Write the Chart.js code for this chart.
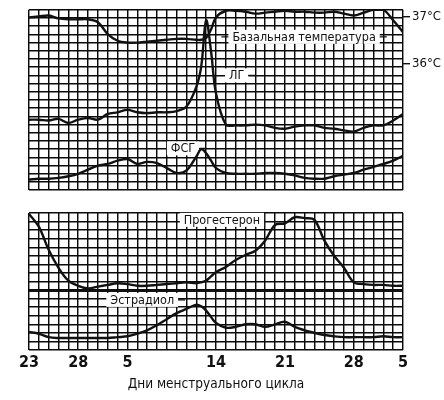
<!DOCTYPE html>
<html lang="ru">
<head>
<meta charset="utf-8">
<script src="https://cdn.jsdelivr.net/npm/chart.js@4.4.1/dist/chart.umd.min.js"></script>
<style>
  html, body { margin: 0; padding: 0; background: #fff; }
  #wrap { position: relative; width: 444px; height: 400px; }
  .panel { position: absolute; left: 0; width: 444px; height: 200px; }
  #panelTop { top: 0; }
  #panelBottom { top: 200px; }
</style>
</head>
<body>
<div id="wrap">
  <div class="panel" id="panelTop"><canvas id="hormonesTop" width="444" height="200"></canvas></div>
  <div class="panel" id="panelBottom"><canvas id="hormonesBottom" width="444" height="200"></canvas></div>
</div>
<script>
// Дни: 0 = 23-й день прошлого цикла, 38 = 5-й день следующего
const days = [0,1,2,3,4,5,6,7,8,9,10,11,12,13,14,15,16,17,17.5,18,18.5,
              19,20,21,22,23,24,25,26,27,28,29,30,31,32,33,34,35,36,37,38];
const tickDays = [0, 5, 10, 19, 26, 33, 38];
const tickLabels = ['23', '28', '5', '14', '21', '28', '5'];
const tempTicks = [36, 37];

// Базальная температура, °C
const basalTemp = [36.98,37.00,37.02,36.96,36.94,36.94,36.94,36.88,36.63,36.49,36.45,36.45,36.47,36.49,
                   36.51,36.53,36.53,36.51,36.51,36.55,36.73,36.98,37.12,37.12,37.10,37.06,37.08,37.10,
                   37.12,37.10,37.10,37.08,37.08,37.10,37.06,37.02,37.08,37.14,37.14,36.92,36.67];
// Гормоны — условные единицы (клетки сетки)
const lh = [8.6,8.6,8.5,8.7,8.2,8.6,8.8,8.6,9.3,9.5,9.8,9.5,9.4,9.5,9.5,9.65,10.2,12.6,15.1,20.7,16.9,
            11.8,8.0,7.9,7.9,8.0,7.9,7.6,7.5,7.75,7.9,7.9,7.6,7.5,7.3,7.15,7.6,7.9,7.9,8.5,9.3];
const fsh = [1.3,1.4,1.4,1.5,1.7,2.0,2.5,3.0,3.2,3.6,3.8,3.2,3.45,3.3,2.7,2.1,2.4,4.1,5.0,4.5,3.6,
             2.7,2.1,2.0,2.0,2.0,2.1,2.1,2.0,1.8,1.5,1.4,1.4,1.7,1.9,2.1,2.5,2.85,3.2,3.6,4.2];
const progesterone = [15.9,14.4,11.7,9.6,8.1,7.5,7.2,7.4,7.6,7.8,7.7,7.5,7.5,7.6,7.7,7.8,7.9,7.8,7.9,8.1,8.6,
                      9.1,9.7,10.5,11.1,11.6,12.8,14.6,14.8,15.5,15.4,15.2,12.8,11.0,9.6,7.9,7.7,7.6,7.6,7.5,7.5];
const estradiol = [2.1,1.9,1.5,1.4,1.4,1.4,1.4,1.4,1.4,1.5,1.6,1.9,2.3,2.9,3.6,4.3,4.8,5.3,5.1,4.6,3.85,
                   3.15,2.6,2.7,3.0,3.0,2.7,3.0,3.3,2.7,2.3,2.0,1.75,1.6,1.5,1.5,1.5,1.5,1.6,1.5,1.5];
const baselineDays = [0, 38];
const baseline = [6.9, 6.9];

const fontFamily = "'Liberation Sans Narrow', 'DejaVu Sans Condensed', sans-serif";
const ink = '#111';

const pts = (xs, vals) => xs.map((d, i) => ({ x: d, y: vals[i] }));
const steps = (from, to) => {
    const out = [];
    for (let v = from; v <= to; v++) out.push({ value: v });
    return out;
};

const gridStyle = { color: '#0a0a0a', lineWidth: 1.45, drawTicks: false };

// Подписи в белых рамках (позиции в единицах осей)
const notesTop = [
    { text: 'Базальная температура', day: 27.95, value: 18.7, left: true, right: true },
    { text: 'ЛГ', day: 21.1, value: 14.0, right: true },
    { text: 'ФСГ', day: 15.65, value: 5.1, right: true }
];
const notesBottom = [
    { text: 'Прогестерон', day: 19.6, value: 15.2 },
    { text: 'Эстрадиол', day: 11.5, value: 5.85, right: true }
];

function notesPlugin(notes) {
    return {
        id: 'notes',
        beforeDatasetsDraw(chart) {
            const ctx = chart.ctx;
            const xs = chart.scales.x, ys = chart.scales.y;
            ctx.save();
            ctx.font = '12.5px ' + fontFamily;
            ctx.textAlign = 'center';
            ctx.textBaseline = 'middle';
            notes.forEach(n => {
                const cx = xs.getPixelForValue(n.day);
                const cy = ys.getPixelForValue(n.value);
                const w = ctx.measureText(n.text).width + 8;
                const h = 14;
                ctx.fillStyle = '#fff';
                ctx.fillRect(cx - w / 2, cy - h / 2, w, h);
                ctx.fillStyle = ink;
                ctx.fillText(n.text, cx, cy + 0.5);
                ctx.strokeStyle = ink;
                ctx.lineWidth = 1.3;
                ctx.beginPath();
                if (n.left) { ctx.moveTo(cx - w / 2 - 7, cy); ctx.lineTo(cx - w / 2, cy); }
                if (n.right) { ctx.moveTo(cx + w / 2, cy); ctx.lineTo(cx + w / 2 + 7, cy); }
                ctx.stroke();
            });
            ctx.restore();
        }
    };
}

const common = {
    responsive: false,
    animation: false,
    plugins: { legend: { display: false }, tooltip: { enabled: false } },
    elements: {
        line: { borderColor: ink, borderWidth: 2.4, tension: 0.35, fill: false },
        point: { radius: 0 }
    }
};

// Верхняя панель: температура, ЛГ, ФСГ
new Chart(document.getElementById('hormonesTop'), {
    type: 'line',
    data: {
        datasets: [
            { label: 'Базальная температура', data: pts(days, basalTemp), yAxisID: 'yT' },
            { label: 'ЛГ', data: pts(days, lh), yAxisID: 'y' },
            { label: 'ФСГ', data: pts(days, fsh), yAxisID: 'y' }
        ]
    },
    options: {
        ...common,
        layout: { padding: { left: 29, right: 0, top: 9, bottom: 5 } },
        scales: {
            x: {
                type: 'linear', min: 0, max: 38,
                afterBuildTicks: s => { s.ticks = steps(0, 38); },
                ticks: { display: false },
                grid: gridStyle,
                border: { display: false },
                afterFit: s => { s.height = 0; }
            },
            y: {
                min: 0, max: 22,
                afterBuildTicks: s => { s.ticks = steps(0, 22); },
                ticks: { display: false },
                grid: gridStyle,
                border: { display: false },
                afterFit: s => { s.width = 0; }
            },
            yT: {
                position: 'right', min: 33.35, max: 37.14,
                afterBuildTicks: s => { s.ticks = tempTicks.map(v => ({ value: v })); },
                grid: { drawOnChartArea: false, drawTicks: true, tickLength: 7, color: ink, lineWidth: 1.4 },
                border: { display: false },
                ticks: {
                    padding: 2, color: ink,
                    font: { family: fontFamily, size: 13 },
                    callback: v => v + '°C'
                },
                afterFit: s => { s.width = 41; }
            }
        }
    },
    plugins: [notesPlugin(notesTop)]
});

// Нижняя панель: прогестерон, эстрадиол
new Chart(document.getElementById('hormonesBottom'), {
    type: 'line',
    data: {
        datasets: [
            { label: 'Прогестерон', data: pts(days, progesterone) },
            { label: 'Эстрадиол', data: pts(days, estradiol) },
            { label: 'base', data: pts(baselineDays, baseline), tension: 0, borderWidth: 2 }
        ]
    },
    options: {
        ...common,
        layout: { padding: { left: 29, right: 41, top: 13, bottom: 0 } },
        scales: {
            x: {
                type: 'linear', min: 0, max: 38,
                afterBuildTicks: s => { s.ticks = steps(0, 38); },
                grid: gridStyle,
                border: { display: false },
                ticks: {
                    autoSkip: false, maxRotation: 0, padding: 3, color: ink,
                    font: { family: fontFamily, size: 16, weight: 'bold' },
                    callback: v => {
                        const i = tickDays.indexOf(v);
                        return i >= 0 ? tickLabels[i] : '';
                    }
                },
                title: {
                    display: true, text: 'Дни менструального цикла', color: ink,
                    font: { family: fontFamily, size: 13.5 },
                    padding: { top: 4, bottom: 7 }
                },
                afterFit: s => { s.height = 50; }
            },
            y: {
                min: 0, max: 16,
                afterBuildTicks: s => { s.ticks = steps(0, 16); },
                ticks: { display: false },
                grid: gridStyle,
                border: { display: false },
                afterFit: s => { s.width = 0; }
            }
        }
    },
    plugins: [notesPlugin(notesBottom)]
});
</script>
</body>
</html>
